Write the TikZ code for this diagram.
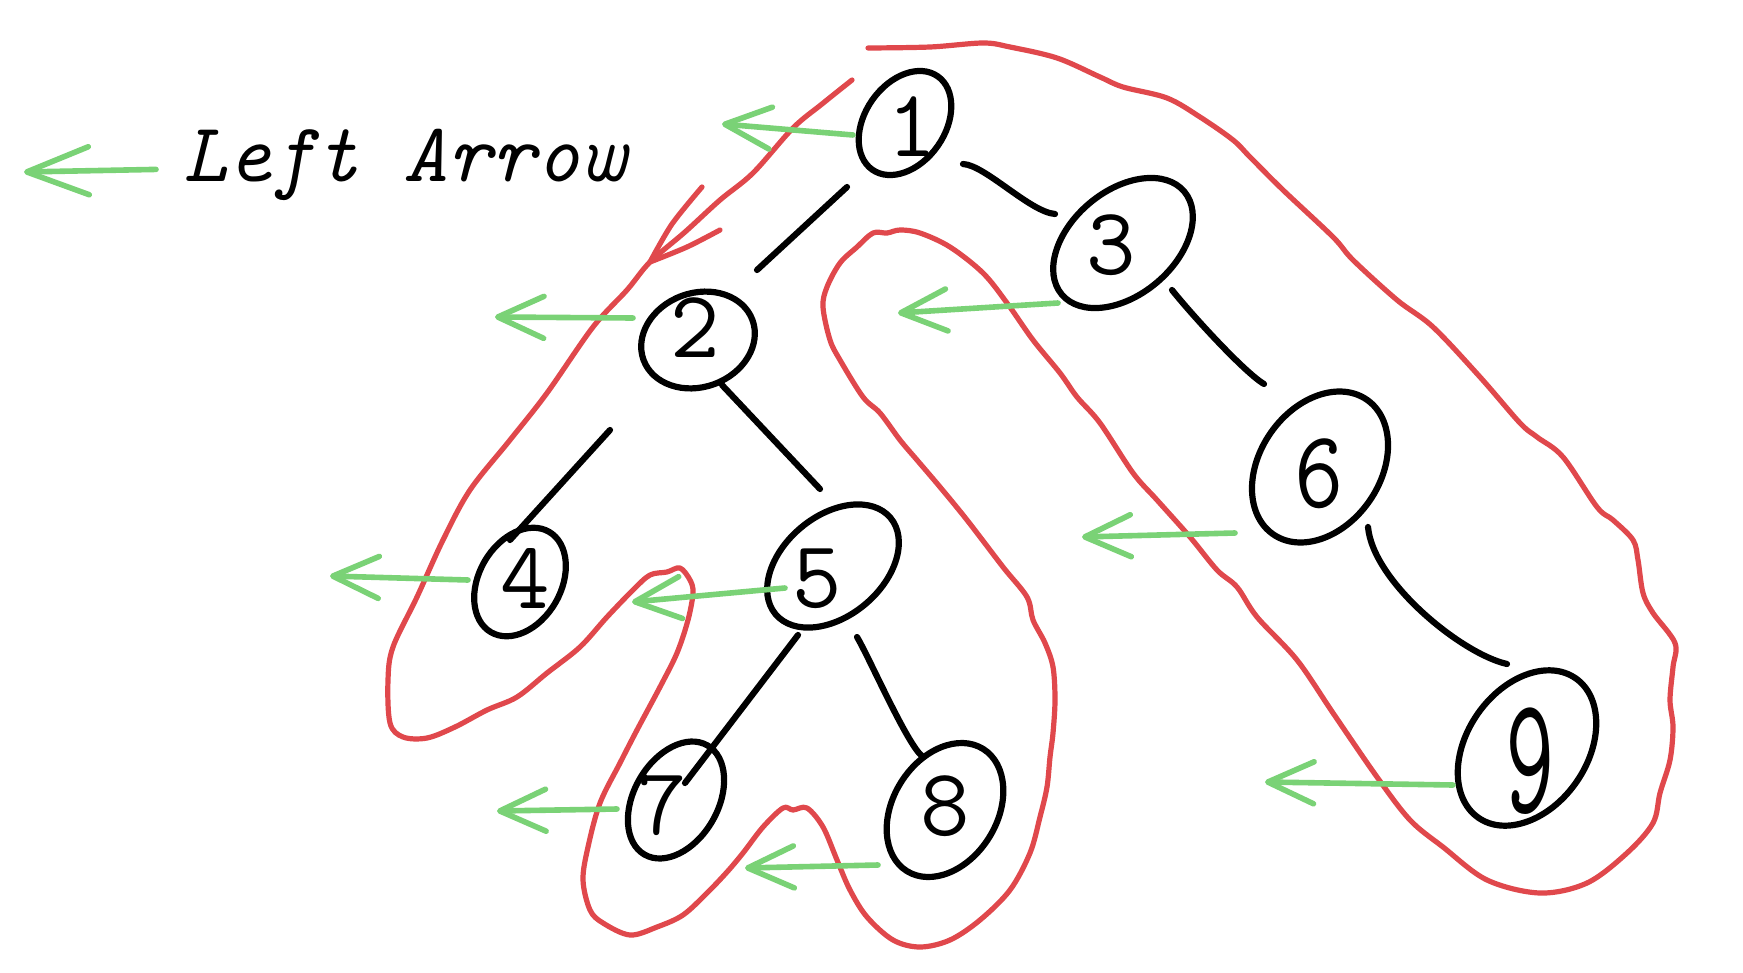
\documentclass[tikz,border=0pt]{standalone}
\usepackage{fontspec}
\usepackage{graphicx}
\usetikzlibrary{shapes.geometric, arrows.meta, calc}
\definecolor{penred}{RGB}{224,72,76}
\definecolor{pengreen}{RGB}{122,210,118}
\begin{document}
\begin{tikzpicture}[x=1pt,y=-1pt,
  ell/.style={draw=black, ellipse, line width=6.2pt, inner sep=0pt},
  digit/.style={font=\fontsize{96}{100}\selectfont\ttfamily, inner sep=0pt, text=black},
  edge/.style={draw=black, line width=6.2pt, line cap=round, line join=round},
  redline/.style={draw=penred, line width=5.2pt, line cap=round, line join=round},
  garrow/.style={draw=pengreen, line width=5.6pt, line cap=round,
    -{Straight Barb[length=46pt,width=42pt,round]}},
]
\fill[white] (0,0) rectangle (1743,972);
\useasboundingbox (0,0) rectangle (1743,972);

% tree nodes (hand-drawn tilted ellipses)
\node[ell, minimum width=114pt, minimum height=80pt,  rotate=55] (n1) at (905,123) {};
\node[ell, minimum width=116pt, minimum height=94pt,  rotate=20] (n2) at (698,340) {};
\node[ell, minimum width=160pt, minimum height=104pt, rotate=40] (n3) at (1123,243) {};
\node[ell, minimum width=116pt, minimum height=82pt,  rotate=60] (n4) at (520,582) {};
\node[ell, minimum width=150pt, minimum height=100pt, rotate=40] (n5) at (833,566) {};
\node[ell, minimum width=164pt, minimum height=120pt, rotate=55] (n6) at (1320,467) {};
\node[ell, minimum width=126pt, minimum height=84pt,  rotate=60] (n7) at (676,800) {};
\node[ell, minimum width=144pt, minimum height=104pt, rotate=58] (n8) at (945,810) {};
\node[ell, minimum width=170pt, minimum height=120pt, rotate=55] (n9) at (1527,748) {};

% labels
\node[digit] (l1) at ($(n1)+(7,4)$) {1};
\node[digit] (l2) at ($(n2)+(-3,-12)$) {2};
\node[digit] (l3) at ($(n3)+(-12,2)$) {3};
\node[digit] (l4) at ($(n4)+(5,-4)$) {4};
\node[digit] (l5) at ($(n5)+(-16,13)$) {5};
\node[digit] (l6) at ($(n6)+(-1,7)$) {\scalebox{1}[1.15]{6}};
\node[digit] (l7) at ($(n7)+(-14,5)$) {7};
\node[digit] (l8) at ($(n8)+(0,-4)$) {8};
\node[digit] (l9) at ($(n9)+(3,13)$) {\scalebox{1}[1.75]{9}};

% tree edges
\draw[edge] ($(n1)+(-58,64)$) -- ($(n2)+(59,-70)$);
\draw[edge] ($(n1)+(58,41)$) .. controls +(22,1) and +(-25,-2) .. ($(n3)+(-68,-29)$);
\draw[edge] ($(n2)+(-88,90)$) -- ($(n4)+(-10,-42)$);
\draw[edge] ($(n2)+(24,45)$) -- ($(n5)+(-13,-77)$);
\draw[edge] ($(n3)+(49,47)$) .. controls +(20,25) and +(-20,-12) .. ($(n6)+(-56,-83)$);
\draw[edge] ($(n5)+(-35,69)$) -- ($(n7)+(9,-17)$);
\draw[edge] ($(n5)+(24,71)$) .. controls +(12,20) and +(-15,-12) .. ($(n8)+(-23,-54)$);
\draw[edge] ($(n6)+(48,60)$) .. controls +(5,55) and +(-45,-10) .. ($(n9)+(-20,-84)$);

% red traversal outline
\draw[redline] plot[smooth, tension=0.55] coordinates {
(852,80) (822,104) (793,128) (753,173) (720,200) (685,232) (650,262) (627,290)
(593,327) (547,393) (510,440) (470,490) (443,540) (417,597) (393,647) (388,680)
(390,723) (403,737) (427,738) (455,727) (487,710) (517,697) (547,673) (580,647)
(607,617) (633,590) (650,575) (667,572) (680,568) (690,580) (693,593) (688,620)
(677,653) (660,687) (637,730) (620,763) (600,803) (588,847) (583,880) (590,910)
(603,923) (630,935) (657,927) (683,915) (707,893) (727,872) (743,853) (763,827)
(783,808) (793,810) (807,808) (823,827) (837,860) (850,890) (867,917) (893,940)
(920,947) (950,940) (980,920) (1010,890) (1030,853) (1040,817) (1047,787)
(1050,757) (1053,733) (1055,700) (1053,667) (1045,643) (1033,620) (1027,597)
(1003,567) (967,520) (940,487) (917,460) (900,440) (880,413) (863,397) (840,360)
(830,340) (823,307) (827,287) (840,263) (857,247) (873,233) (887,233) (900,230)
(920,233) (950,247) (983,273) (1007,303) (1033,340) (1060,373) (1077,397)
(1100,423) (1133,473) (1157,500) (1190,537) (1217,570) (1237,587) (1257,617)
(1297,660) (1333,713) (1377,777) (1410,820) (1443,847) (1487,880) (1540,893)
(1587,883) (1627,853) (1653,823) (1660,793) (1670,760) (1673,727) (1670,700)
(1673,667) (1675,643) (1653,613) (1643,593) (1638,560) (1633,540) (1613,520)
(1597,507) (1563,457) (1537,437) (1520,423) (1480,377) (1433,327) (1397,300)
(1353,260) (1333,237) (1283,190) (1250,157) (1233,140) (1200,117) (1167,98)
(1123,87) (1100,77) (1057,58) (1010,47) (983,43) (930,47) (868,48)};
% red arrow head
\draw[redline] plot[smooth] coordinates {(702,187) (672,224) (650,262)};
\draw[redline] plot[smooth] coordinates {(720,230) (687,247) (650,262)};

% green left arrows
\coordinate (t1) at (722,124);
\coordinate (t2) at (495,317);
\coordinate (t3) at (898,313);
\coordinate (t4) at (330,576);
\coordinate (t5) at (632,602);
\coordinate (t6) at (1082,537);
\coordinate (t7) at (497,811);
\coordinate (t8) at (745,868);
\coordinate (t9) at (1265,782);
\draw[garrow] ($(n1)+(-52,12)$) -- (t1);
\draw[garrow] ($(n2)+(-65,-22)$) -- (t2);
\draw[garrow] ($(n3)+(-65,60)$) -- (t3);
\draw[garrow] ($(n4)+(-52,-2)$) -- (t4);
\draw[garrow] ($(n5)+(-48,22)$) -- (t5);
\draw[garrow] ($(n6)+(-85,66)$) -- (t6);
\draw[garrow] ($(n7)+(-59,9)$) -- (t7);
\draw[garrow] ($(n8)+(-67,55)$) -- (t8);
\draw[garrow] ($(n9)+(-74,37)$) -- (t9);

% legend
\node[anchor=base west, inner sep=0pt, font=\fontsize{84}{90}\selectfont\ttfamily\itshape] (legend) at (183,181) {Left Arrow};
\coordinate (t0) at (24,172);
\draw[draw=pengreen, line width=5.6pt, line cap=round,
  -{Straight Barb[length=62pt,width=48pt,round]}] ($(legend.west)+(-27,5)$) -- (t0);
\end{tikzpicture}
\end{document}
